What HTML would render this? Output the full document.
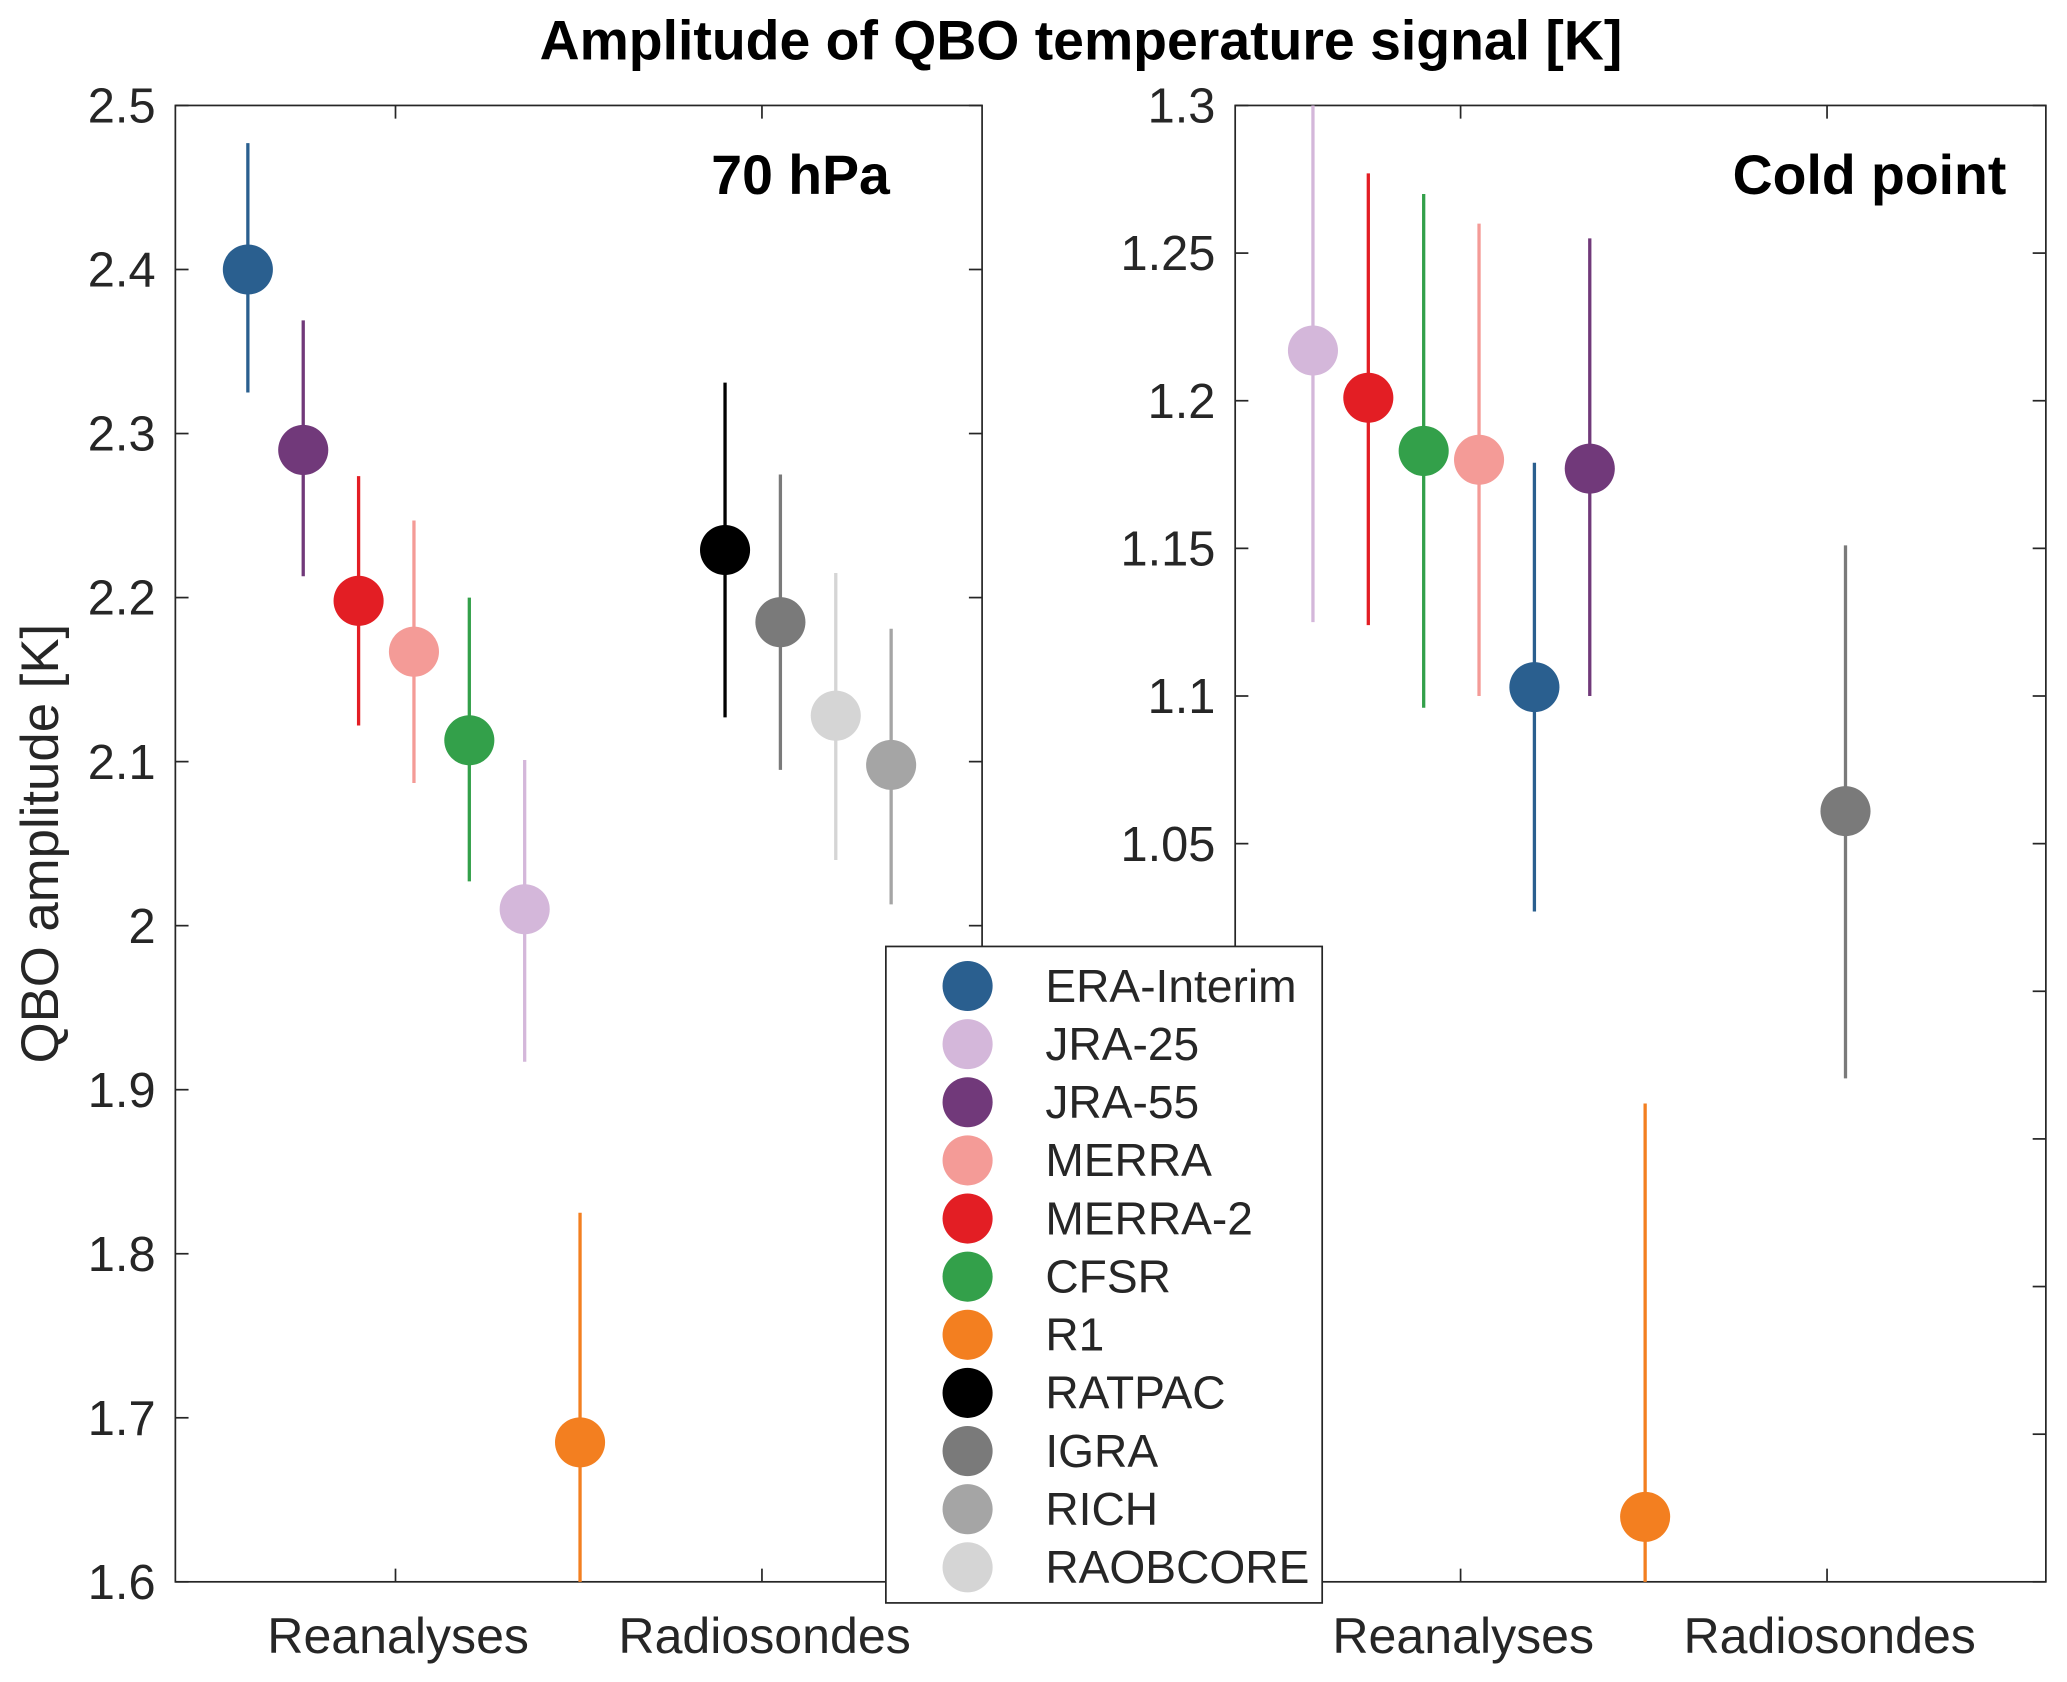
<!DOCTYPE html>
<html><head><meta charset="utf-8"><style>html,body{margin:0;padding:0;background:#fff;overflow:hidden;width:2067px;height:1682px;position:relative}svg{display:block;position:absolute;left:0;top:0}text{font-family:"Liberation Sans",Arial,sans-serif;fill:#262626}</style></head>
<body>
<svg id="chart" width="2067" height="1682" viewBox="0 0 1568 1276" xmlns="http://www.w3.org/2000/svg">
<defs>
<clipPath id="cl"><rect x="133" y="80" width="612" height="1120"/></clipPath>
<clipPath id="cr"><rect x="937" y="80" width="615" height="1120"/></clipPath>
</defs>
<text x="820" y="45" text-anchor="middle" font-size="42" font-weight="bold" style="fill:#000">Amplitude of QBO temperature signal [K]</text>
<text transform="translate(44,640) rotate(-90)" text-anchor="middle" font-size="40">QBO amplitude [K]</text>
<g id="gl"></g><g id="gr"></g><g id="legend"></g>
</svg>
<script>
const names=["ERA-Interim","JRA-25","JRA-55","MERRA","MERRA-2","CFSR","R1","RATPAC","IGRA","RICH","RAOBCORE"];
const colors=["#2a5f8f","#d4b7da","#71397a","#f49b97","#e31e24","#33a04a","#f37f20","#000000","#7a7a7a","#a5a5a5","#d5d5d5"];
const groups=[0,0,0,0,0,0,0,1,1,1,1];
const leftSlots=[0,5,1,3,2,4,6,0,1,3,2];
const leftVal=[2.40,2.01,2.29,2.167,2.198,2.113,1.685,2.229,2.185,2.098,2.128];
const leftLo=[2.325,1.917,2.213,2.087,2.122,2.027,1.545,2.127,2.095,2.013,2.04];
const leftHi=[2.477,2.101,2.369,2.247,2.274,2.2,1.825,2.331,2.275,2.181,2.215];
const rightNames=["ERA-Interim","JRA-25","JRA-55","MERRA","MERRA-2","CFSR","R1","IGRA"];
const rightSlots=[4,0,5,3,1,2,6,1];
const rightVal=[1.103,1.217,1.177,1.18,1.201,1.183,0.822,1.061];
const rightLo=[1.027,1.125,1.1,1.1,1.124,1.096,0.70,0.9705];
const rightHi=[1.179,1.31,1.255,1.26,1.277,1.27,0.962,1.151];
const leftTicks=["2.5","2.4","2.3","2.2","2.1","2","1.9","1.8","1.7","1.6"];
const rightTicks=["1.3","1.25","1.2","1.15","1.1","1.05"];
const catLabels=["Reanalyses","Radiosondes"];
const NS="http://www.w3.org/2000/svg";
function mk(p,t,a){const e=document.createElementNS(NS,t);for(const k in a)e.setAttribute(k,a[k]);p.appendChild(e);return e;}
function panel(g,cfg){
  const {x0,x1,y0,y1,vmax,vmin,cats,clip}=cfg;
  const Y=v=>y0+(vmax-v)/(vmax-vmin)*(y1-y0);
  const X=(grp,slot)=>cats[grp]+(grp===0?-112:-28)+42*slot;
  const ax=mk(g,'rect',{x:x0,y:y0,width:x1-x0,height:y1-y0,fill:'none',stroke:'#262626','stroke-width':1.3});
  
  for(let v=vmax;v>=vmin-1e-9;v-=cfg.step){const y=Y(v);
    mk(g,'line',{x1:x0,x2:x0+10,y1:y,y2:y,stroke:'#262626','stroke-width':1.3});
    mk(g,'line',{x1:x1,x2:x1-10,y1:y,y2:y,stroke:'#262626','stroke-width':1.3});}
  cfg.ticks.forEach(t=>{const tx=mk(g,'text',{x:x0-15,y:Y(parseFloat(t))+13,'text-anchor':'end','font-size':37});tx.textContent=t;
    });
  catLabels.forEach((c,i)=>{const x=cats[i];
    mk(g,'line',{x1:x,x2:x,y1:y1,y2:y1-10,stroke:'#262626','stroke-width':1.3});
    mk(g,'line',{x1:x,x2:x,y1:y0,y2:y0+10,stroke:'#262626','stroke-width':1.3});
    const tx=mk(g,'text',{x:x+2,y:y1+54,'text-anchor':'middle','font-size':38});tx.textContent=c;
    });
  const pg=mk(g,'g',{'clip-path':'url(#'+clip+')'});
  cfg.names.forEach((n,i)=>{const idx=names.indexOf(n);const x=X(groups[idx],cfg.slots[i]);
    const l=mk(pg,'line',{x1:x,x2:x,y1:Y(cfg.lo[i]),y2:Y(cfg.hi[i]),stroke:colors[idx],'stroke-width':2.5});
    
    const c=mk(pg,'circle',{cx:x,cy:Y(cfg.val[i]),r:19,fill:colors[idx]});
    });
  const t=mk(g,'text',{x:cfg.labX,y:147,'text-anchor':'end','font-size':42,'font-weight':'bold',style:'fill:#000'});t.textContent=cfg.label;
  
}
panel(document.getElementById('gl'),{x0:133,x1:745,y0:80,y1:1200,vmax:2.5,vmin:1.6,step:0.1,cats:[300,578],clip:'cl',
  ticks:leftTicks,names:names,slots:leftSlots,val:leftVal,lo:leftLo,hi:leftHi,label:'70 hPa',labX:675});
panel(document.getElementById('gr'),{x0:937,x1:1552,y0:80,y1:1200,vmax:1.3,vmin:0.8,step:0.05,cats:[1108,1386],clip:'cr',
  ticks:rightTicks,names:rightNames,slots:rightSlots,val:rightVal,lo:rightLo,hi:rightHi,label:'Cold point',labX:1522});
const lg=document.getElementById('legend');
const lb=mk(lg,'rect',{x:672,y:718,width:331,height:498,fill:'#fff',stroke:'#262626','stroke-width':1.3});

names.forEach((n,i)=>{const y=748+44.1*i;
  const c=mk(lg,'circle',{cx:734,cy:y,r:19,fill:colors[i]});
  
  const t=mk(lg,'text',{x:793,y:y+12,'font-size':35});t.textContent=n;
  });
</script>
</body></html>
